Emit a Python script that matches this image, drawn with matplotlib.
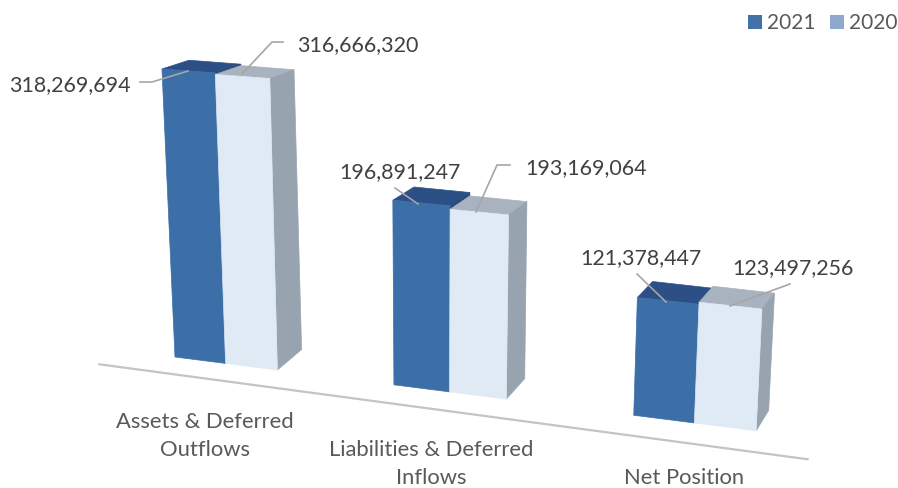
import matplotlib
matplotlib.use('Agg')
import matplotlib.pyplot as plt
from matplotlib.patches import Polygon, Rectangle

plt.rcParams['font.family'] = ['Lato', 'DejaVu Sans']

categories = ['Assets & Deferred\nOutflows', 'Liabilities & Deferred\nInflows', 'Net Position']
values_2021 = [318269694, 196891247, 121378447]
values_2020 = [316666320, 193169064, 123497256]
series_names = ['2021', '2020']

GROUP_STEP = 4.17

BLUE = dict(front='#3c6ea8', top='#2c4f86', side='#2a4a78')
PALE = dict(front='#dfeaf5', top='#a8b3bf', side='#98a3b0')


def proj(u, v, d=0.0):
    # fake perspective of the original 3d chart: u along floor, v in millions, d depth
    px = 50 * u + 0.6 * u * u
    x = 175 + px + (-0.041 + 0.0085 * u) * v + (27 - 1.4 * u) * d
    y = 358 + 0.127 * px - (0.905 + 0.0078 * u) * v - (20.5 - 0.037 * v) * d
    return x, y


def draw_bar(ax, u, value, colors):
    v = value / 1e6
    top = [proj(u, v), proj(u + 1, v), proj(u + 1, v, 1), proj(u, v, 1)]
    side = [proj(u + 1, 0), proj(u + 1, 0, 1), proj(u + 1, v, 1), proj(u + 1, v)]
    front = [proj(u, 0), proj(u + 1, 0), proj(u + 1, v), proj(u, v)]
    ax.add_patch(Polygon(top, fc=colors['top'], ec=colors['top'], lw=0.5))
    ax.add_patch(Polygon(side, fc=colors['side'], ec=colors['side'], lw=0.5))
    ax.add_patch(Polygon(front, fc=colors['front'], ec=colors['front'], lw=0.5))


fig = plt.figure(figsize=(8.98, 4.89), dpi=100)
ax = fig.add_axes([0, 0, 1, 1])
ax.set_xlim(0, 898)
ax.set_ylim(489, 0)
ax.axis('off')

# floor line
p0 = proj(-1.15, 0, -0.7)
p1 = proj(11.35, 0, -1.0)
ax.plot([p0[0], p1[0]], [p0[1], p1[1]], color='#c4c4c4', lw=1.6, solid_capstyle='butt')

for i in range(len(categories)):
    u = i * GROUP_STEP
    draw_bar(ax, u, values_2021[i], BLUE)
    draw_bar(ax, u + 1, values_2020[i], PALE)

# leader lines
leaders = [
    [(140, 83), (152, 83), (188, 72)],
    [(283, 43), (272, 43), (242, 75)],
    [(395, 189), (418, 205)],
    [(510, 166), (497, 166), (476, 213)],
    [(637, 275), (666, 303)],
    [(790, 285), (768, 293), (730, 307)],
]
for pts in leaders:
    ax.plot([p[0] for p in pts], [p[1] for p in pts], color='#a6a6a6', lw=1.2)

# data labels
label_pos = [(131, 85, 'right'), (297, 45, 'left'), (400, 172, 'center'),
             (525, 168, 'left'), (641, 258, 'center'), (793, 268, 'center')]
label_vals = [values_2021[0], values_2020[0], values_2021[1], values_2020[1], values_2021[2], values_2020[2]]
for (x, y, ha), val in zip(label_pos, label_vals):
    ax.text(x, y, f'{val:,}', ha=ha, va='center', fontsize=15.4, color='#404040')

# category labels
cat_pos = [(205, 436), (431, 464.5), (684, 478)]
for (x, y), name in zip(cat_pos, categories):
    ax.text(x, y, name, ha='center', va='center', fontsize=15.8, color='#595959', linespacing=1.5)

# legend
for x, color, name in zip([748, 830], ['#4472a8', '#8fa8d0'], series_names):
    ax.add_patch(Rectangle((x, 16), 14, 14, fc=color, ec='none'))
    ax.text(x + 19, 23, name, ha='left', va='center', fontsize=15, color='#595959')

fig.savefig('out.png', dpi=100)
